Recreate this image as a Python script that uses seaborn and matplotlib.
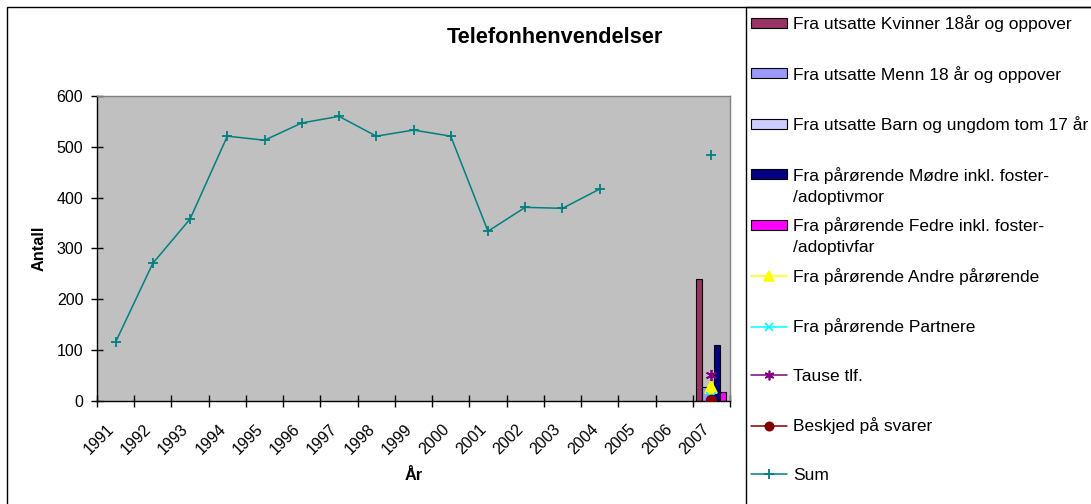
import numpy as np
import pandas as pd
import matplotlib
matplotlib.use("Agg")
import matplotlib.pyplot as plt
import matplotlib.transforms as mtransforms
from matplotlib.patches import Rectangle, Patch
from matplotlib.lines import Line2D
import seaborn as sns

# Data
years = [str(y) for y in range(1991, 2008)]
sum_values = [116, 271, 358, 521, 513, 547, 560, 521, 533, 521, 334, 381, 379, 417,
              np.nan, np.nan, 484]

bar_series = ["Fra utsatte Kvinner 18år og oppover",
              "Fra utsatte Menn 18 år og oppover",
              "Fra utsatte Barn og ungdom tom 17 år",
              "Fra pårørende Mødre inkl. foster-/adoptivmor",
              "Fra pårørende Fedre inkl. foster-/adoptivfar"]
bar_values_2007 = [240, 27, 12, 110, 17]
bar_colors = ["#993366", "#9999FF", "#CCCCFF", "#000080", "#FF00FF"]

point_series = ["Fra pårørende Andre pårørende", "Fra pårørende Partnere",
                "Tause tlf.", "Beskjed på svarer"]
point_values_2007 = [28, 8, 52, 2]
point_colors = ["#FFFF00", "#00FFFF", "#800080", "#800000"]
point_markers = ["^", "x", (6, 2, 0), "o"]
point_sizes = [8, 7, 8, 7]

sum_name = "Sum"
sum_color = "#008080"

W, H = 1091, 504
sns.set_theme(style="ticks")
plt.rcParams["font.family"] = ["Liberation Sans", "DejaVu Sans"]
plt.rcParams.update({"text.color": "black", "axes.labelcolor": "black",
                     "xtick.color": "black", "ytick.color": "black"})

fig = plt.figure(figsize=(W / 100, H / 100), dpi=100)
ax = fig.add_axes([97 / W, 1 - 401 / H, 633 / W, 305 / H])
ax.set_facecolor("#C0C0C0")

# bars (only 2007 has values)
bar_df = pd.DataFrame({"År": years[-1], "Serie": bar_series, "Antall": bar_values_2007})
sns.barplot(data=bar_df, x="År", y="Antall", hue="Serie", order=years,
            hue_order=bar_series, palette=bar_colors, saturation=1,
            edgecolor="black", linewidth=0.8, errorbar=None, legend=False,
            width=0.8, ax=ax, zorder=2)

# sum line, broken where values are missing
sum_df = pd.DataFrame({"pos": np.arange(len(years)), "Antall": sum_values})
sum_df["seg"] = sum_df["Antall"].isna().cumsum()
sum_df = sum_df.dropna()
sns.lineplot(data=sum_df, x="pos", y="Antall", units="seg", estimator=None,
             color=sum_color, linewidth=1.1, marker="+", markersize=7,
             markeredgewidth=1.3, markeredgecolor=sum_color, legend=False,
             ax=ax, zorder=3)

# single points for 2007
for name, val, col, mk, ms in zip(point_series, point_values_2007, point_colors,
                                  point_markers, point_sizes):
    pdf = pd.DataFrame({"pos": [len(years) - 1], "Antall": [val]})
    sns.lineplot(data=pdf, x="pos", y="Antall", color=col, marker=mk,
                 markersize=ms, markeredgewidth=1.3, markeredgecolor=col,
                 markerfacecolor=col, legend=False, ax=ax, zorder=4)

# axes styling
ax.set_xlim(-0.5, len(years) - 0.5)
ax.set_ylim(0, 600)
ax.set_yticks(range(0, 601, 100))
ax.set_xticks(range(len(years)))
ax.set_xticklabels(years, rotation=45, ha="right", va="center",
                   rotation_mode="anchor", fontsize=11.5)
ax.set_xticks(np.arange(-0.5, len(years)), minor=True)
ax.tick_params(axis="x", which="major", length=0, pad=18.5)
ax.tick_params(axis="x", which="minor", direction="inout", length=8, width=1,
               color="black")
ax.tick_params(axis="y", direction="inout", length=8, width=1, color="black",
               pad=5.9, labelsize=11.5)
offset = mtransforms.ScaledTranslation(-4 / 100, 0, fig.dpi_scale_trans)
for lbl in ax.get_xticklabels():
    lbl.set_transform(lbl.get_transform() + offset)
ax.grid(False)
for side in ["left", "bottom"]:
    ax.spines[side].set_color("black")
    ax.spines[side].set_linewidth(1)
for side in ["top", "right"]:
    ax.spines[side].set_color("#808080")
    ax.spines[side].set_linewidth(1)

ax.set_xlabel("År", fontsize=11.8, fontweight="bold")
ax.set_ylabel("Antall", fontsize=11.7, fontweight="bold")
ax.xaxis.set_label_coords(0.5, (401 - 468) / 305)
ax.yaxis.set_label_coords((46.7 - 97) / 633, 0.5)

fig.text(555 / W, 1 - 42.7 / H, "Telefonhenvendelser", ha="center",
         va="baseline", fontsize=15.7, fontweight="bold")

# borders of chart and legend box
fig.add_artist(Rectangle((7 / W, -0.1), 2, 1.1 - 7 / H, transform=fig.transFigure,
                         fill=False, edgecolor="black", linewidth=1))
fig.add_artist(Rectangle((745.5 / W, -0.1), 2, 1.1 - 7 / H, transform=fig.transFigure,
                         fill=False, edgecolor="black", linewidth=1))

# legend
handles = [Patch(facecolor=c, edgecolor="black", linewidth=0.8) for c in bar_colors]
handles += [Line2D([], [], color=c, marker=m, markersize=s - 1, markeredgewidth=1.2,
                   markeredgecolor=c, markerfacecolor=c, linewidth=1.1)
            for c, m, s in zip(point_colors, point_markers, point_sizes)]
handles.append(Line2D([], [], color=sum_color, marker="+", markersize=7,
                      markeredgewidth=1.3, linewidth=1.1))
labels = [s.split("/")[0] if "foster-/" in s else s for s in bar_series]
labels += point_series + [sum_name]
tails = {i: "/" + s.split("/", 1)[1] for i, s in enumerate(bar_series) if "foster-/" in s}

leg_fs = 12.5
fs_px = leg_fs * 100 / 72


def make_legend(spacing, top):
    return fig.legend(handles, labels, loc="upper left",
                      bbox_to_anchor=(751 / W, top), bbox_transform=fig.transFigure,
                      frameon=False, fontsize=leg_fs, borderpad=0, borderaxespad=0,
                      handlelength=36 / fs_px, handleheight=0.5,
                      handletextpad=6 / fs_px, labelspacing=spacing, numpoints=1)


spacing = 1.5
top = 1 - 12 / H
leg = make_legend(spacing, top)
fig.canvas.draw()
rend = fig.canvas.get_renderer()
bbs = [t.get_window_extent(rend) for t in leg.get_texts()]
first = H - (bbs[0].y0 + bbs[0].y1) / 2
last = H - (bbs[-1].y0 + bbs[-1].y1) / 2
step = (last - first) / (len(bbs) - 1)
spacing += (50.2 - step) / fs_px
top -= (23.5 - first) / H
leg.remove()
leg = make_legend(spacing, top)
fig.canvas.draw()
rend = fig.canvas.get_renderer()
for i, tail in tails.items():
    bb = leg.get_texts()[i].get_window_extent(rend)
    yc = (bb.y0 + bb.y1) / 2 - 22
    fig.text(bb.x0 / W, yc / H, tail, ha="left", va="center", fontsize=leg_fs)

fig.savefig("out.png", dpi=100)
